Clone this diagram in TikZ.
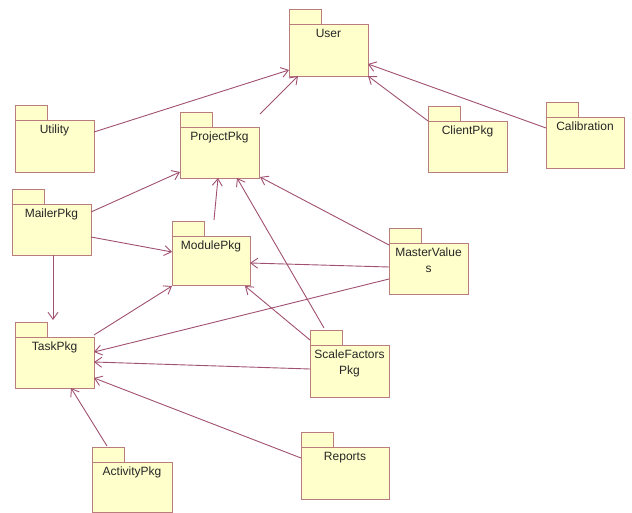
\documentclass[tikz,border=0pt]{standalone}
\usepackage{fontspec}
\setmainfont{Liberation Sans}
\usetikzlibrary{calc,arrows.meta}
\definecolor{pkgfill}{RGB}{255,255,204}
\definecolor{pkgline}{RGB}{185,125,125}
\definecolor{depline}{RGB}{160,80,112}
\tikzset{
  pkgbody/.style={draw=pkgline, fill=pkgfill, line width=0.9pt, rectangle, inner sep=0pt, outer sep=0pt, anchor=north west},
  pkgtab/.style={draw=pkgline, fill=pkgfill, line width=0.9pt},
  pkgtext/.style={anchor=north, inner sep=0pt, align=center, font=\fontsize{12}{15.5}\selectfont, text=black!85},
  dep/.style={draw=depline, line width=0.9pt, -{Straight Barb[length=7pt,width=10pt]}}
}
\newcommand\umlpkg[6]{%
  \node[pkgbody, minimum width=#4, minimum height=#5] (#1) at (#2,#3) {};
  \draw[pkgtab] (#1.north west) rectangle ++(32,-15);
  \node[pkgtext] (#1-t) at ($(#1.north)+(0,5)$) {#6};
}
\begin{document}
\begin{tikzpicture}[x=1pt,y=-1pt]
\useasboundingbox (0,0) rectangle (632,513);
\umlpkg{user}{289}{24}{79}{52}{User}
\umlpkg{utility}{15}{120}{79}{52}{Utility}
\umlpkg{project}{180}{127}{79}{51}{ProjectPkg}
\umlpkg{client}{428}{121}{79}{51}{ClientPkg}
\umlpkg{calib}{546}{117}{78}{51}{Calibration}
\umlpkg{mailer}{12}{204}{79}{51}{MailerPkg}
\umlpkg{module}{172}{236}{78}{49}{ModulePkg}
\umlpkg{master}{389}{243}{79}{51}{MasterValue\\s}
\umlpkg{scale}{310}{345}{79}{52}{ScaleFactors\\Pkg}
\umlpkg{task}{15}{337}{79}{51}{TaskPkg}
\umlpkg{activity}{92}{462}{80}{50}{ActivityPkg}
\umlpkg{reports}{301}{447}{88}{52}{Reports}
\coordinate (taskin) at ($(mailer.south west)+(41,65)$);
% connectors
\draw[dep] ($(utility.north east)+(0,12)$) -- ($(user.north west)+(0,46)$);
\draw[dep] ($(project.north east)+(1,-13)$) -- ($(user.south west)+(9,0)$);
\draw[dep] (client.north west) -- (user.south east);
\draw[dep] ($(calib.north west)+(0,11)$) -- ($(user.north east)+(0,40)$);
\draw[dep] ($(mailer.north east)+(0,8)$) -- ($(project.south west)+(0,-6)$);
\draw[dep] ($(mailer.north east)+(0,33)$) -- ($(module.north west)+(0,16)$);
\draw[dep] ($(mailer.south west)+(41,0)$) -- (taskin);
\draw[dep] ($(module.north west)+(42,-16)$) -- ($(project.south west)+(38,0)$);
\draw[dep] ($(scale.north west)+(14,-17)$) -- ($(project.south west)+(57,0)$);
\draw[dep] ($(master.north west)+(0,2)$) -- ($(project.south east)+(1,-1)$);
\draw[dep] ($(master.north west)+(0,24)$) -- ($(module.north east)+(0,27)$);
\draw[dep] ($(master.north west)+(0,36)$) -- ($(task.north east)+(0,15)$);
\draw[dep] ($(scale.north west)+(0,-5)$) -- ($(module.south east)+(-5,1)$);
\draw[dep] ($(scale.north west)+(0,24)$) -- ($(task.north east)+(0,25)$);
\draw[dep] ($(task.north east)+(0,-2)$) -- ($(module.south west)+(0,1)$);
\draw[dep] ($(reports.north west)+(0,11)$) -- ($(task.north east)+(0,41)$);
\draw[dep] ($(activity.north west)+(15,-16)$) -- ($(task.south west)+(56,0)$);
\end{tikzpicture}
\end{document}
